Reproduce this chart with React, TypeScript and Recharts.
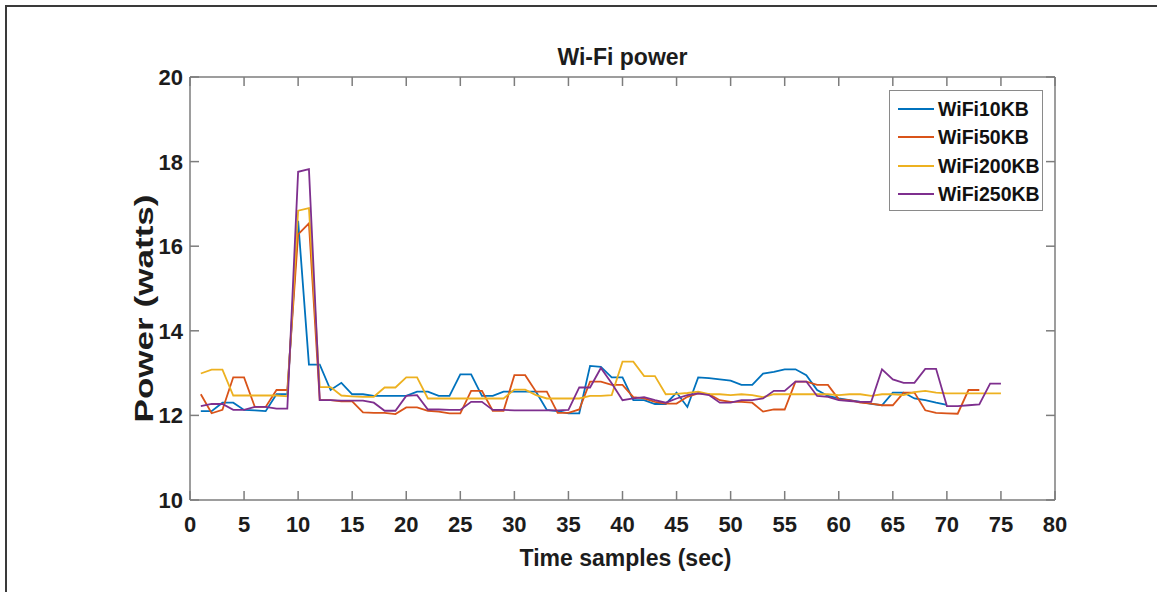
import React from 'react';
import { LineChart, Line, XAxis, YAxis, Legend, Label, ReferenceLine } from 'recharts';

const samples = [
  1, 2, 3, 4, 5, 6, 7, 8, 9, 10, 11, 12, 13, 14, 15, 16, 17, 18, 19, 20,
  21, 22, 23, 24, 25, 26, 27, 28, 29, 30, 31, 32, 33, 34, 35, 36, 37, 38, 39, 40,
  41, 42, 43, 44, 45, 46, 47, 48, 49, 50, 51, 52, 53, 54, 55, 56, 57, 58, 59, 60,
  61, 62, 63, 64, 65, 66, 67, 68, 69, 70, 71, 72, 73, 74, 75,
];

const wifi10KB = [
  12.1, 12.1, 12.3, 12.3, 12.13, 12.12, 12.1, 12.5, 12.5, 16.6,
  13.2, 13.2, 12.6, 12.77, 12.5, 12.5, 12.46, 12.46, 12.46, 12.46,
  12.56, 12.56, 12.46, 12.46, 12.97, 12.97, 12.46, 12.46, 12.56, 12.56,
  12.56, 12.56, 12.13, 12.1, 12.05, 12.05, 13.17, 13.15, 12.9, 12.9,
  12.36, 12.36, 12.27, 12.27, 12.54, 12.2, 12.9, 12.88, 12.85, 12.82,
  12.72, 12.72, 12.99, 13.03, 13.09, 13.09, 12.95, 12.6, 12.46, 12.4,
  12.36, 12.32, 12.27, 12.24, 12.54, 12.54, 12.4, 12.36, 12.3, 12.25,
];

const wifi50KB = [
  12.5, 12.05, 12.13, 12.9, 12.9, 12.2, 12.2, 12.6, 12.6, 16.28,
  16.54, 12.36, 12.36, 12.33, 12.33, 12.07, 12.06, 12.06, 12.03, 12.19,
  12.19, 12.11, 12.09, 12.05, 12.05, 12.58, 12.58, 12.11, 12.11, 12.95,
  12.95, 12.56, 12.56, 12.06, 12.06, 12.14, 12.8, 12.8, 12.72, 12.72,
  12.43, 12.4, 12.32, 12.28, 12.28, 12.44, 12.52, 12.5, 12.36, 12.32,
  12.32, 12.3, 12.09, 12.14, 12.14, 12.8, 12.8, 12.72, 12.72, 12.38,
  12.36, 12.3, 12.28, 12.24, 12.24, 12.54, 12.54, 12.12, 12.06, 12.05,
  12.04, 12.6, 12.6,
];

const wifi200KB = [
  12.99, 13.08, 13.08, 12.47, 12.47, 12.47, 12.47, 12.47, 12.45, 16.84,
  16.9, 12.67, 12.67, 12.47, 12.45, 12.44, 12.44, 12.66, 12.66, 12.9,
  12.9, 12.4, 12.4, 12.4, 12.4, 12.4, 12.4, 12.4, 12.4, 12.61,
  12.61, 12.48, 12.4, 12.4, 12.4, 12.4, 12.46, 12.46, 12.48, 13.27,
  13.27, 12.93, 12.93, 12.5, 12.51, 12.53, 12.56, 12.5, 12.5, 12.48,
  12.5, 12.48, 12.43, 12.5, 12.5, 12.5, 12.5, 12.5, 12.5, 12.48,
  12.5, 12.5, 12.46, 12.5, 12.5, 12.48, 12.55, 12.58, 12.54, 12.52,
  12.52, 12.52, 12.52, 12.52, 12.52,
];

const wifi250KB = [
  12.22, 12.27, 12.27, 12.13, 12.13, 12.2, 12.2, 12.16, 12.16, 17.76,
  17.82, 12.36, 12.36, 12.35, 12.35, 12.35, 12.3, 12.11, 12.11, 12.46,
  12.48, 12.14, 12.14, 12.13, 12.13, 12.32, 12.32, 12.13, 12.13, 12.12,
  12.12, 12.12, 12.12, 12.12, 12.13, 12.66, 12.66, 13.12, 12.76, 12.36,
  12.4, 12.43, 12.36, 12.3, 12.4, 12.48, 12.52, 12.48, 12.3, 12.3,
  12.36, 12.36, 12.4, 12.58, 12.58, 12.8, 12.8, 12.46, 12.44, 12.36,
  12.34, 12.32, 12.32, 13.09, 12.85, 12.77, 12.77, 13.1, 13.1, 12.22,
  12.22, 12.24, 12.26, 12.75, 12.75,
];

const seriesNames = ['WiFi10KB', 'WiFi50KB', 'WiFi200KB', 'WiFi250KB'];
const xTicks = [0, 5, 10, 15, 20, 25, 30, 35, 40, 45, 50, 55, 60, 65, 70, 75, 80];
const yTicks = [10, 12, 14, 16, 18, 20];
const xMax = 80;
const yMax = 20;
const titleText = 'Wi-Fi power';
const xLabelText = 'Time samples (sec)';
const yLabelText = 'Power (watts)';

const data = samples.map((t, i) => ({
  t,
  w10: wifi10KB[i],
  w50: wifi50KB[i],
  w200: wifi200KB[i],
  w250: wifi250KB[i],
}));

const FONT = '"Liberation Sans", Arial, Helvetica, sans-serif';
const AXIS = '#7d7d7d';
const TXT = '#1c1c1c';
const COLORS = ['#0072BD', '#D95319', '#EDB120', '#7E2F8E'];
const PLOT_W = 865;
const PLOT_H = 423;
const TICK = 9;

const BottomTick = (props: any) => {
  const { x, y, payload } = props;
  return (
    <g>
      <line x1={x} y1={y} x2={x} y2={y - TICK} stroke={AXIS} strokeWidth={1.5} />
      <line x1={x} y1={y - PLOT_H} x2={x} y2={y - PLOT_H + TICK} stroke={AXIS} strokeWidth={1.5} />
      <text x={x} y={y + 32} textAnchor="middle" fontFamily={FONT} fontWeight="bold" fontSize={22} fill={TXT}>
        {payload.value}
      </text>
    </g>
  );
};

const LeftTick = (props: any) => {
  const { x, y, payload } = props;
  return (
    <g>
      <line x1={x} y1={y} x2={x + TICK} y2={y} stroke={AXIS} strokeWidth={1.5} />
      <line x1={x + PLOT_W} y1={y} x2={x + PLOT_W - TICK} y2={y} stroke={AXIS} strokeWidth={1.5} />
      <text x={x - 7} y={y + 8} textAnchor="end" fontFamily={FONT} fontWeight="bold" fontSize={22} fill={TXT}>
        {payload.value}
      </text>
    </g>
  );
};

const LegendBox = (props: any) => {
  const payload = [...(props.payload || [])].sort(
    (a: any, b: any) => seriesNames.indexOf(a.value) - seriesNames.indexOf(b.value)
  );
  return (
    <div
      style={{
        width: 154,
        height: 121,
        boxSizing: 'border-box',
        border: '1px solid #8a8a8a',
        background: '#ffffff',
        paddingTop: 4,
        fontFamily: FONT,
      }}
    >
      {payload.map((entry: any) => (
        <div key={entry.value} style={{ height: 28.3, display: 'flex', alignItems: 'center' }}>
          <div style={{ width: 36, height: 0, borderTop: `2px solid ${entry.color}`, marginLeft: 8, marginRight: 4 }} />
          <span style={{ fontSize: 19.5, fontWeight: 'bold', color: '#111', lineHeight: '28px' }}>{entry.value}</span>
        </div>
      ))}
    </div>
  );
};

export default function App() {
  return (
    <div style={{ position: 'absolute', left: 0, top: 0, width: 1157, height: 592, background: '#fff' }}>
      <div
        style={{
          position: 'absolute',
          left: 5,
          top: 5,
          width: 1170,
          height: 600,
          borderTop: '2px solid #3a3a3a',
          borderLeft: '2px solid #3a3a3a',
        }}
      />
      <div style={{ position: 'absolute', left: 0, top: 0 }}>
        <LineChart width={1157} height={592} data={data} margin={{ top: 77, right: 102, bottom: 91, left: 189 }}>
          <XAxis
            dataKey="t"
            type="number"
            domain={[0, xMax]}
            ticks={xTicks}
            interval={0}
            height={1}
            tickSize={0}
            tickMargin={0}
            tickLine={false}
            axisLine={{ stroke: AXIS, strokeWidth: 1.5 }}
            tick={BottomTick}
            allowDataOverflow
          >
            <Label
              content={(p: any) => {
                const vb = p.viewBox || { x: 190, y: 500, width: 865, height: 1 };
                return (
                  <text x={vb.x + vb.width / 2 + 3} y={vb.y + 66} textAnchor="middle" fontFamily={FONT} fontWeight="bold" fontSize={23} fill={TXT}>
                    {xLabelText}
                  </text>
                );
              }}
            />
          </XAxis>
          <YAxis
            type="number"
            domain={[10, yMax]}
            ticks={yTicks}
            interval={0}
            width={1}
            tickSize={0}
            tickMargin={0}
            tickLine={false}
            axisLine={{ stroke: AXIS, strokeWidth: 1.5 }}
            tick={LeftTick}
            allowDataOverflow
          >
            <Label
              content={(p: any) => {
                const vb = p.viewBox || { x: 189, y: 77, width: 1, height: 423 };
                const cx = vb.x + vb.width - 37;
                const cy = vb.y + vb.height / 2 + 20;
                return (
                  <text
                    transform={`translate(${cx}, ${cy}) rotate(-90)`}
                    x={0}
                    y={0}
                    textAnchor="middle"
                    fontFamily={FONT}
                    fontWeight="bold"
                    fontSize={25}
                    fill={TXT}
                    textLength={228}
                    lengthAdjust="spacingAndGlyphs"
                  >
                    {yLabelText}
                  </text>
                );
              }}
            />
          </YAxis>
          <ReferenceLine
            y={yMax}
            stroke={AXIS}
            strokeWidth={1.5}
            ifOverflow="visible"
            label={
              <Label
                content={(p: any) => {
                  const vb = p.viewBox || { x: 190, y: 77, width: 865, height: 0 };
                  return (
                    <text x={vb.x + vb.width / 2} y={vb.y - 12} textAnchor="middle" fontFamily={FONT} fontWeight="bold" fontSize={23} fill={TXT}>
                      {titleText}
                    </text>
                  );
                }}
              />
            }
          />
          <ReferenceLine x={xMax} stroke={AXIS} strokeWidth={1.5} ifOverflow="visible" />
          <Legend
            layout="vertical"
            align="center"
            verticalAlign="middle"
            content={LegendBox}
            wrapperStyle={{ left: 889, top: 90, width: 154, height: 121 }}
          />
          <Line type="linear" dataKey="w10" name={seriesNames[0]} stroke={COLORS[0]} strokeWidth={1.8} dot={false} isAnimationActive={false} />
          <Line type="linear" dataKey="w50" name={seriesNames[1]} stroke={COLORS[1]} strokeWidth={1.8} dot={false} isAnimationActive={false} />
          <Line type="linear" dataKey="w200" name={seriesNames[2]} stroke={COLORS[2]} strokeWidth={1.8} dot={false} isAnimationActive={false} />
          <Line type="linear" dataKey="w250" name={seriesNames[3]} stroke={COLORS[3]} strokeWidth={1.8} dot={false} isAnimationActive={false} />
        </LineChart>
      </div>
    </div>
  );
}
